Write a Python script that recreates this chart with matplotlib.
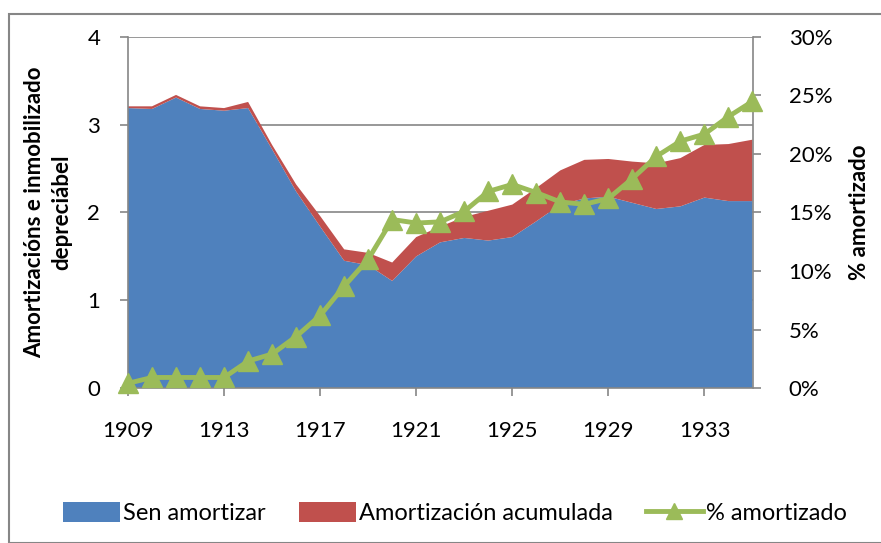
import matplotlib
matplotlib.use('Agg')
import matplotlib.pyplot as plt
from matplotlib.patches import Rectangle, Patch
from matplotlib.lines import Line2D
from matplotlib.ticker import FuncFormatter

plt.rcParams['font.family'] = ['Lato', 'DejaVu Sans']

# datos
anos = list(range(1909, 1936))
sen_amortizar = [3.19, 3.18, 3.31, 3.18, 3.16, 3.19, 2.72, 2.24, 1.84, 1.45, 1.40, 1.22,
                 1.50, 1.66, 1.71, 1.68, 1.72, 1.90, 2.09, 2.16, 2.18, 2.11, 2.04, 2.07,
                 2.17, 2.13, 2.13]
total = [3.21, 3.21, 3.34, 3.21, 3.19, 3.26, 2.77, 2.32, 1.96, 1.58, 1.54, 1.43,
         1.72, 1.84, 1.95, 2.02, 2.09, 2.28, 2.48, 2.60, 2.61, 2.58, 2.56, 2.62,
         2.77, 2.78, 2.83]
amortizacion = [t - s for t, s in zip(total, sen_amortizar)]
pct_amortizado = [0.4, 0.9, 0.9, 0.9, 0.9, 2.3, 2.9, 4.4, 6.2, 8.7, 11.0, 14.4,
                  14.1, 14.2, 15.1, 16.8, 17.4, 16.7, 15.9, 15.7, 16.2, 17.9, 19.8, 21.1,
                  21.7, 23.2, 24.5]
pct_amortizado = [v / 100 for v in pct_amortizado]

azul = '#4F81BD'
vermello = '#C0504D'
verde = '#9BBB59'
gris = '#868686'

W, H = 881, 543
fig = plt.figure(figsize=(W / 100, H / 100), dpi=100)

# marco do gráfico
fig.patches.append(Rectangle((9 / W, 0), 1.2, (H - 14) / H, transform=fig.transFigure,
                             fill=False, edgecolor=gris, linewidth=1.5))

ax = fig.add_axes([128 / W, (H - 388) / H, (752.5 - 128) / W, (388 - 37) / H])
ax.stackplot(anos, sen_amortizar, amortizacion, colors=[azul, vermello], linewidth=0)
ax.set_xlim(1909, 1935)
ax.set_ylim(0, 4)
ax.set_yticks([0, 1, 2, 3, 4])
ax.set_xticks(list(range(1909, 1935, 4)))
ax.grid(axis='y', color=gris, linewidth=1.2)
ax.set_axisbelow(True)
for s in ['top', 'right']:
    ax.spines[s].set_visible(False)
for s in ['left', 'bottom']:
    ax.spines[s].set_color(gris)
    ax.spines[s].set_linewidth(1.2)
ax.tick_params(axis='both', colors=gris, labelcolor='black', labelsize=16, length=6, width=1.2)
ax.tick_params(axis='x', pad=18)
ax.tick_params(axis='y', pad=14)
ax.set_ylabel('Amortizacións e inmobilizado\ndepreciábel', fontsize=16, fontweight='bold',
              labelpad=11, linespacing=1.35)

ax2 = ax.twinx()
ax2.plot(anos, pct_amortizado, color=verde, linewidth=3.5, marker='^', markersize=14,
         clip_on=False, zorder=5)
ax2.set_ylim(0, 0.30)
ax2.set_yticks([0, 0.05, 0.10, 0.15, 0.20, 0.25, 0.30])
ax2.yaxis.set_major_formatter(FuncFormatter(lambda v, p: '%d%%' % round(v * 100)))
for s in ['top', 'left', 'bottom']:
    ax2.spines[s].set_visible(False)
ax2.spines['right'].set_color(gris)
ax2.spines['right'].set_linewidth(1.2)
ax2.tick_params(axis='y', colors=gris, labelcolor='black', labelsize=16, length=6, width=1.2, pad=20)
ax2.set_ylabel('% amortizado', fontsize=16, fontweight='bold', labelpad=12)

handles = [Patch(facecolor=azul, label='Sen amortizar'),
           Patch(facecolor=vermello, label='Amortización acumulada'),
           Line2D([0], [0], color=verde, linewidth=3.5, marker='^', markersize=12,
                  label='% amortizado')]
fig.legend(handles=handles, loc='center', bbox_to_anchor=(455 / W, (H - 513) / H), ncol=3,
           frameon=False, fontsize=17, handlelength=2.4, handleheight=0.9,
           columnspacing=1.4, handletextpad=0.15)

fig.savefig('out.png', dpi=100)
